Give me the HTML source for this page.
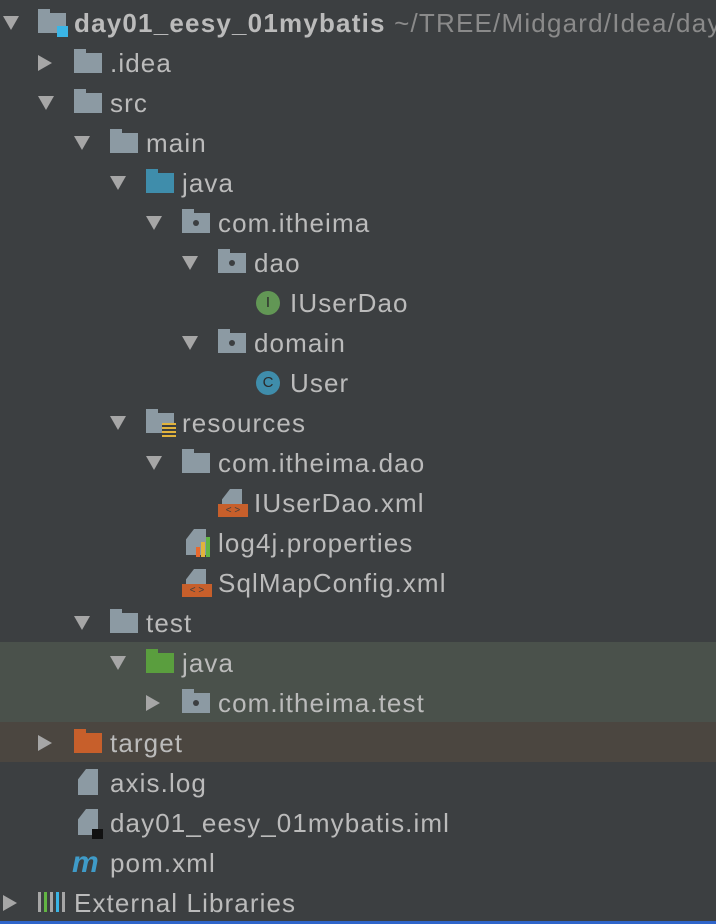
<!DOCTYPE html><html><head><style>
body{margin:0;width:716px;height:924px;background:#3c3f41;overflow:hidden;position:relative;font-family:"Liberation Sans",sans-serif;}
.r{position:absolute;left:0;width:716px;height:40px;}
.t{position:absolute;top:5px;font-size:26px;letter-spacing:1.1px;color:#bbbbbb;white-space:nowrap;line-height:30px;}
.a{position:absolute;top:13px;width:0;height:0;}
.ad{border-left:8px solid transparent;border-right:8px solid transparent;border-top:14px solid #a6a6a6;}
.ar{border-top:8px solid transparent;border-bottom:8px solid transparent;border-left:14px solid #a6a6a6;top:12px;}
.f{position:absolute;top:10px;width:28px;height:20px;background:#8c9aa3;}
.f:before{content:"";position:absolute;left:0;top:-4px;width:12px;height:4px;background:inherit;}
.dot:after{content:"";position:absolute;left:11px;top:7px;width:6px;height:6px;border-radius:50%;background:#3c3f41;}
.c{position:absolute;top:8px;width:24px;height:24px;border-radius:50%;color:#2b2b2b;font-size:15px;text-align:center;line-height:24px;}
.doc{position:absolute;top:6px;width:20px;height:26px;background:#8c9aa3;clip-path:polygon(40% 0,100% 0,100% 100%,0 100%,0 40%);}
.xml{position:absolute;top:21px;width:30px;height:13px;background:#c75f2b;color:#3c3f41;font-size:10px;line-height:13px;text-align:center;}
</style></head><body>
<div style="position:absolute;left:0;top:642px;width:716px;height:80px;background:#4a514b"></div>
<div style="position:absolute;left:0;top:722px;width:716px;height:40px;background:#4b4640"></div>
<div style="position:absolute;left:0;top:921px;width:716px;height:3px;background:#2f65ca"></div>

<div class="r" style="top:3px"><div class="a ad" style="left:3px"></div><div class="f" style="left:38px"></div><div style="position:absolute;left:57px;top:23px;width:11px;height:11px;background:#3ab5e6"></div><div class="t" style="left:74px;font-weight:bold;letter-spacing:1.2px">day01_eesy_01mybatis <span style="font-weight:normal;color:#8a8a8a">~/TREE/Midgard/Idea/day</span></div></div>
<div class="r" style="top:43px"><div class="a ar" style="left:38px"></div><div class="f" style="left:74px"></div><div class="t" style="left:110px">.idea</div></div>
<div class="r" style="top:83px"><div class="a ad" style="left:38px"></div><div class="f" style="left:74px"></div><div class="t" style="left:110px">src</div></div>
<div class="r" style="top:123px"><div class="a ad" style="left:74px"></div><div class="f" style="left:110px"></div><div class="t" style="left:146px">main</div></div>
<div class="r" style="top:163px"><div class="a ad" style="left:110px"></div><div class="f" style="left:146px;background:#3f8dab"></div><div class="t" style="left:182px">java</div></div>
<div class="r" style="top:203px"><div class="a ad" style="left:146px"></div><div class="f dot" style="left:182px"></div><div class="t" style="left:218px">com.itheima</div></div>
<div class="r" style="top:243px"><div class="a ad" style="left:182px"></div><div class="f dot" style="left:218px"></div><div class="t" style="left:254px">dao</div></div>
<div class="r" style="top:283px"><div class="c" style="left:256px;background:#629755">I</div><div class="t" style="left:290px">IUserDao</div></div>
<div class="r" style="top:323px"><div class="a ad" style="left:182px"></div><div class="f dot" style="left:218px"></div><div class="t" style="left:254px">domain</div></div>
<div class="r" style="top:363px"><div class="c" style="left:256px;background:#3f8dab">C</div><div class="t" style="left:290px">User</div></div>
<div class="r" style="top:403px"><div class="a ad" style="left:110px"></div><div class="f" style="left:146px"></div><div style="position:absolute;left:162px;top:20px;width:14px;height:14px;background:repeating-linear-gradient(#e2b33c 0 2px,#3c3f41 2px 4px)"></div><div class="t" style="left:182px">resources</div></div>
<div class="r" style="top:443px"><div class="a ad" style="left:146px"></div><div class="f" style="left:182px"></div><div class="t" style="left:218px">com.itheima.dao</div></div>
<div class="r" style="top:483px"><div class="doc" style="left:222px"></div><div class="xml" style="left:218px">&lt; &gt;</div><div class="t" style="left:254px">IUserDao.xml</div></div>
<div class="r" style="top:523px"><div class="doc" style="left:186px"></div><div style="position:absolute;left:196px;top:24px;width:4px;height:10px;background:#e8692d"></div><div style="position:absolute;left:201px;top:19px;width:4px;height:15px;background:#e2b33c"></div><div style="position:absolute;left:206px;top:14px;width:4px;height:20px;background:#62b543"></div><div class="t" style="left:218px">log4j.properties</div></div>
<div class="r" style="top:563px"><div class="doc" style="left:186px"></div><div class="xml" style="left:182px">&lt; &gt;</div><div class="t" style="left:218px">SqlMapConfig.xml</div></div>
<div class="r" style="top:603px"><div class="a ad" style="left:74px"></div><div class="f" style="left:110px"></div><div class="t" style="left:146px">test</div></div>
<div class="r" style="top:643px"><div class="a ad" style="left:110px"></div><div class="f" style="left:146px;background:#5a9e3e"></div><div class="t" style="left:182px">java</div></div>
<div class="r" style="top:683px"><div class="a ar" style="left:146px"></div><div class="f dot" style="left:182px"></div><div class="t" style="left:218px">com.itheima.test</div></div>
<div class="r" style="top:723px"><div class="a ar" style="left:38px"></div><div class="f" style="left:74px;background:#c75f2b"></div><div class="t" style="left:110px">target</div></div>
<div class="r" style="top:763px"><div class="doc" style="left:78px"></div><div class="t" style="left:110px">axis.log</div></div>
<div class="r" style="top:803px"><div class="doc" style="left:78px"></div><div style="position:absolute;left:92px;top:26px;width:11px;height:10px;background:#111"></div><div class="t" style="left:110px">day01_eesy_01mybatis.iml</div></div>
<div class="r" style="top:843px"><div class="t" style="left:72px;color:#3f9bc8;font-weight:bold;font-style:italic;font-size:30px;letter-spacing:0">m</div><div class="t" style="left:110px">pom.xml</div></div>
<div class="r" style="top:883px"><div class="a ar" style="left:3px"></div><div style="position:absolute;left:38px;top:9px;width:28px;height:20px;background:repeating-linear-gradient(90deg,#a6a6a6 0 3px,transparent 3px 6px)"></div><div style="position:absolute;left:44px;top:9px;width:3px;height:20px;background:#62b543"></div><div style="position:absolute;left:56px;top:9px;width:3px;height:20px;background:#3ab5e6"></div><div class="t" style="left:74px">External Libraries</div></div>
</body></html>
